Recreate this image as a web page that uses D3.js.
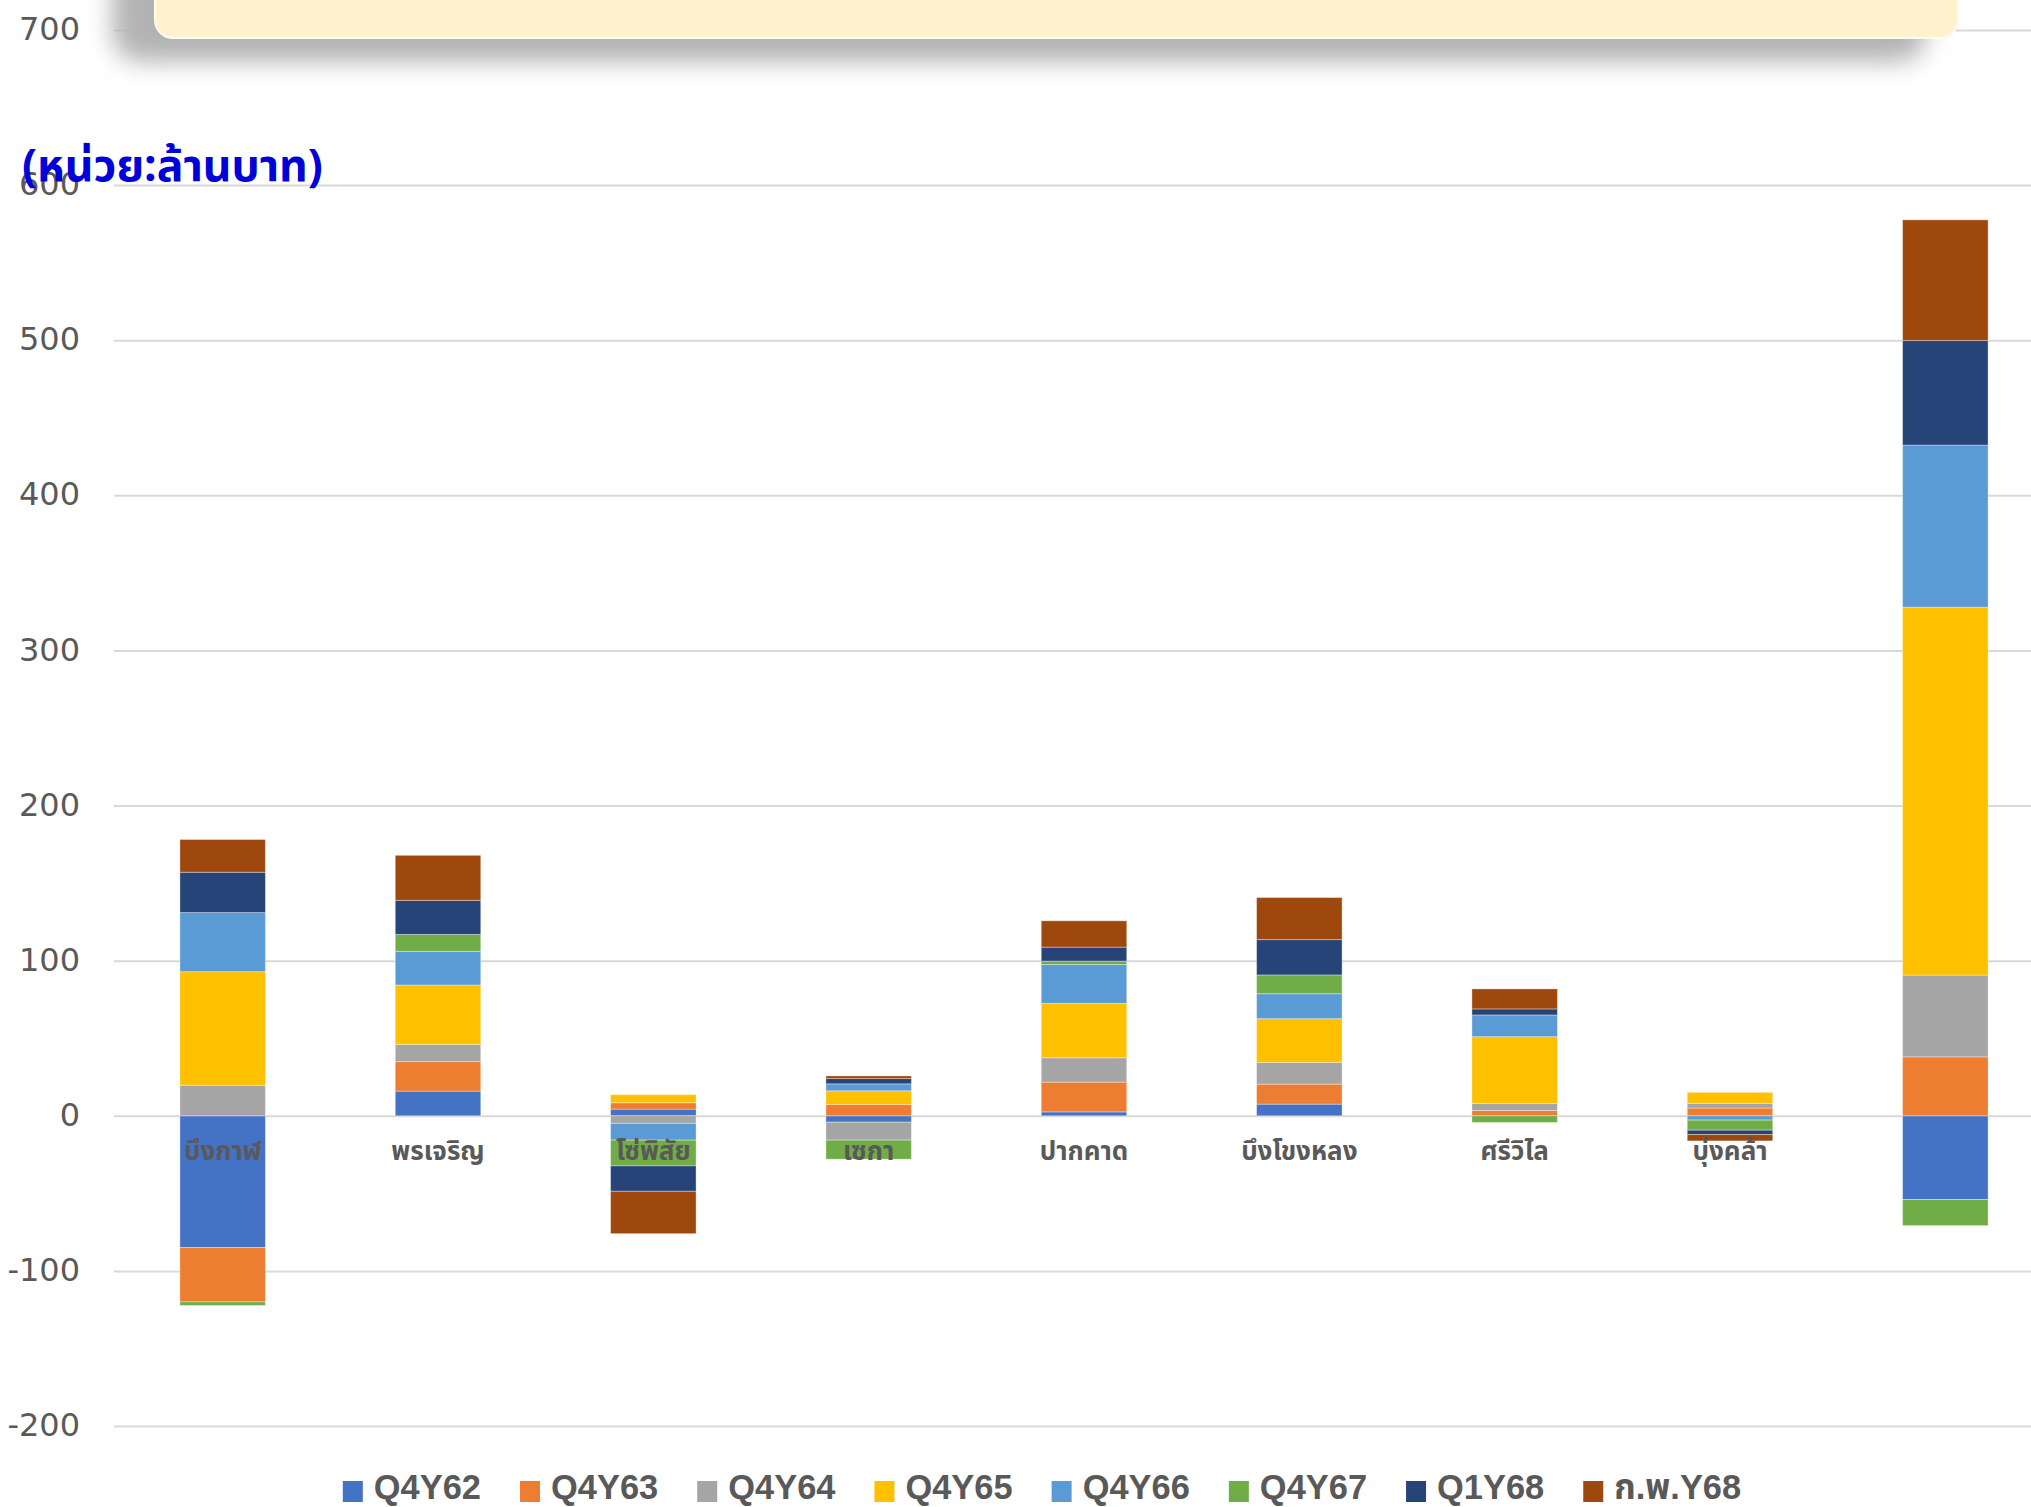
<!DOCTYPE html>
<html>
<head>
<meta charset="utf-8">
<script src="https://cdn.jsdelivr.net/npm/d3@7"></script>
<style>
  html, body { margin: 0; padding: 0; background: #ffffff; }
  svg { display: block; }
</style>
</head>
<body>
<svg id="chart" width="2031" height="1507"></svg>
<script>
// ---------- DATA ----------
const categories = ["บึงกาฬ", "พรเจริญ", "โซ่พิสัย", "เซกา", "ปากคาด", "บึงโขงหลง", "ศรีวิไล", "บุ่งคล้า", ""];
const seriesNames = ["Q4Y62", "Q4Y63", "Q4Y64", "Q4Y65", "Q4Y66", "Q4Y67", "Q1Y68", "ก.พ.Y68"];
const q4y62 = [-84.9, 15.9, 4.3, -4.1, 2.5, 7.5, 0, 0, -54.0];
const q4y63 = [-35.1, 19.0, 4.1, 7.3, 19.2, 12.9, 3.4, 5.0, 38.0];
const q4y64 = [19.7, 11.1, -4.9, -11.6, 15.7, 14.0, 4.5, 3.0, 52.7];
const q4y65 = [73.2, 38.3, 5.2, 8.8, 35.1, 28.2, 43.1, 7.1, 237.2];
const q4y66 = [38.1, 21.7, -10.8, 4.5, 25.0, 16.1, 14.0, -2.8, 104.5];
const q4y67 = [-2.3, 10.9, -16.6, -12.3, 2.2, 12.1, -4.3, -6.5, -16.8];
const q1y68 = [26.0, 22.0, -16.4, 3.4, 9.0, 22.8, 3.9, -2.8, 67.4];
const fby68 = [21.1, 29.0, -27.3, 1.7, 17.0, 27.1, 12.9, -4.1, 77.8];
const yTicks = [-200, -100, 0, 100, 200, 300, 400, 500, 600, 700];
const yTickLabels = ["-200", "-100", "0", "100", "200", "300", "400", "500", "600", "700"];
const unitLabel = "(หน่วย:ล้านบาท)";
const colors = ["#4472C4", "#ED7D31", "#A5A5A5", "#FFC000", "#5B9BD5", "#70AD47", "#264478", "#9E480E"];

const seriesValues = [q4y62, q4y63, q4y64, q4y65, q4y66, q4y67, q1y68, fby68];

// ---------- TABLE ----------
const table = categories.map((c, i) => {
  const row = { idx: i, cat: c };
  seriesNames.forEach((s, k) => { row[s] = seriesValues[k][i]; });
  return row;
});

const svg = d3.select("#chart");
const W = 2031, H = 1507;
const thaiFont = "'Noto Sans Thai', 'Noto Sans Thai UI', 'Noto Looped Thai', Loma, Garuda, 'Noto Sans', sans-serif";
const textColor = "#595959";

const x = d3.scaleBand()
  .domain(table.map(d => d.idx))
  .range([115, 2053])
  .paddingInner(0.603)
  .paddingOuter(0.3015);

const y = d3.scaleLinear().domain([-200, 700]).range([1426, 30]);

svg.append("rect").attr("width", W).attr("height", H).attr("fill", "#ffffff");

// gridlines
const grid = svg.append("g")
  .attr("transform", "translate(114,0)")
  .call(d3.axisLeft(y).tickValues(yTicks).tickSize(-(W - 114)).tickFormat(""));
grid.select(".domain").remove();
grid.selectAll(".tick line").attr("stroke", "#D9D9D9").attr("stroke-width", 2);

// y tick labels
const yAxis = svg.append("g")
  .attr("transform", "translate(80,0)")
  .call(d3.axisLeft(y).tickValues(yTicks).tickSize(0).tickPadding(0)
    .tickFormat(v => yTickLabels[yTicks.indexOf(v)]));
yAxis.select(".domain").remove();
yAxis.selectAll(".tick text")
  .attr("fill", textColor)
  .attr("font-family", "'DejaVu Sans', sans-serif")
  .attr("font-size", 32)
  .attr("dy", "0.3em");

// stacked bars
const stack = d3.stack().keys(seriesNames).offset(d3.stackOffsetDiverging);
const layers = stack(table);

svg.append("g").selectAll("g")
  .data(layers)
  .join("g")
  .attr("fill", (d, i) => colors[i])
  .selectAll("rect")
  .data(d => d)
  .join("rect")
  .attr("x", d => x(d.data.idx))
  .attr("width", x.bandwidth())
  .attr("y", d => y(Math.max(d[0], d[1])))
  .attr("height", d => Math.abs(y(d[0]) - y(d[1])))
  .attr("stroke", "rgba(255,255,255,0.35)")
  .attr("stroke-width", 1);

// category labels
const xAxis = svg.append("g")
  .attr("transform", `translate(0,${y(0)})`)
  .call(d3.axisBottom(x).tickSize(0).tickPadding(0).tickFormat(i => categories[i]));
xAxis.select(".domain").remove();
xAxis.selectAll(".tick text")
  .attr("fill", textColor)
  .attr("font-family", thaiFont)
  .attr("font-weight", "bold")
  .attr("font-size", 26)
  .attr("dy", "1.72em");

// top overlay box with shadow
const defs = svg.append("defs");
const f = defs.append("filter").attr("id", "blur").attr("x", "-10%").attr("y", "-100%").attr("width", "120%").attr("height", "300%");
f.append("feGaussianBlur").attr("stdDeviation", 12);
svg.append("rect")
  .attr("x", 112).attr("y", -60).attr("width", 1815).attr("height", 122)
  .attr("rx", 30)
  .attr("fill", "#b3b3b3")
  .attr("filter", "url(#blur)");
svg.append("rect")
  .attr("x", 155).attr("y", -40).attr("width", 1803).attr("height", 78)
  .attr("rx", 18)
  .attr("fill", "#FFF2CC")
  .attr("stroke", "#fffaf0")
  .attr("stroke-width", 2);

// unit label
svg.append("text")
  .attr("x", 22).attr("y", 181)
  .attr("fill", "#0000D8")
  .attr("font-family", thaiFont)
  .attr("font-weight", "bold")
  .attr("font-size", 44.5)
  .text(unitLabel);

// legend
const sx = 0.97;
const legend = svg.append("g");
const items = legend.selectAll("g.item")
  .data(seriesNames)
  .join("g")
  .attr("class", "item");
items.append("rect")
  .attr("width", 20).attr("height", 21)
  .attr("y", 1481)
  .attr("fill", (d, i) => colors[i]);
const texts = items.append("text")
  .attr("fill", textColor)
  .attr("font-family", "'Liberation Sans', " + thaiFont)
  .attr("font-weight", "bold")
  .attr("font-size", 35.5)
  .attr("transform", `translate(31,1499) scale(${sx},1)`)
  .text(d => d);
const widths = [];
texts.each(function () { widths.push(this.getComputedTextLength() * sx); });
const gap = 39;
let total = 0;
widths.forEach((w, i) => { total += 31 + w + (i < widths.length - 1 ? gap : 0); });
let cx = 1042 - total / 2;
items.each(function (d, i) {
  d3.select(this).attr("transform", `translate(${cx},0)`);
  cx += 31 + widths[i] + gap;
});
</script>
</body>
</html>
